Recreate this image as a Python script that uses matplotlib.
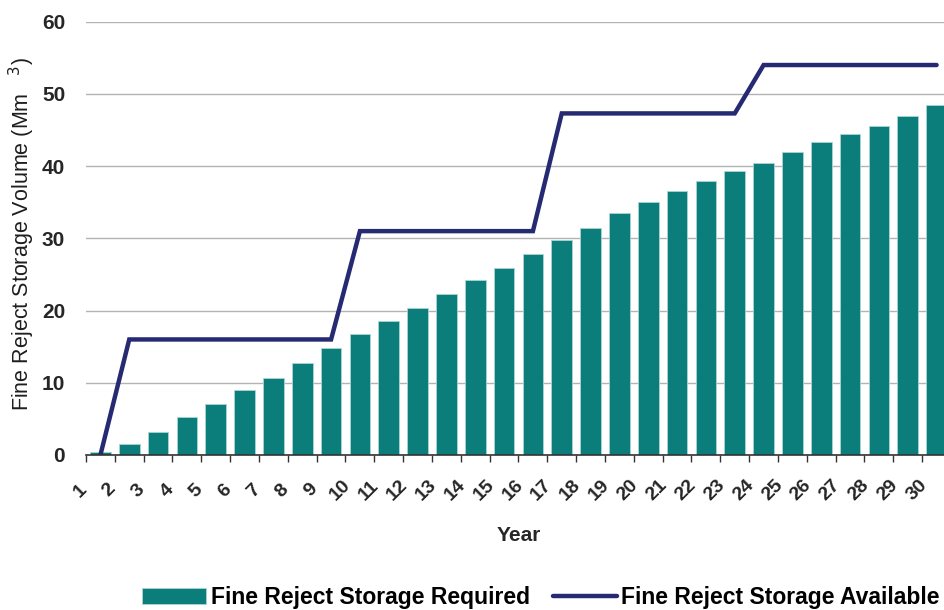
import matplotlib
matplotlib.use("Agg")
import matplotlib.pyplot as plt
import matplotlib.transforms as mtransforms
import numpy as np

plt.rcParams['font.family'] = ['Liberation Sans', 'DejaVu Sans']

# ------------------------------------------------------
# data
years = list(range(1, 31))
required = [0.4, 1.5, 3.2, 5.2, 7.1, 9.0, 10.7, 12.8, 14.8, 16.7,
            18.6, 20.3, 22.3, 24.2, 25.9, 27.8, 29.8, 31.5, 33.5, 35.0,
            36.6, 37.9, 39.3, 40.5, 41.9, 43.4, 44.4, 45.6, 47.0, 48.4]
available = [0, 16, 16, 16, 16, 16, 16, 16, 16, 31,
             31, 31, 31, 31, 31, 31, 47.3, 47.3, 47.3, 47.3,
             47.3, 47.3, 47.3, 54, 54, 54, 54, 54, 54, 54]
y_ticks = [0, 10, 20, 30, 40, 50, 60]
# ------------------------------------------------------

teal = '#0b7d7a'
navy = '#262a72'

fig = plt.figure(figsize=(9.44, 6.10), dpi=100)
ax = fig.add_axes([86 / 944, 155 / 610, 865 / 944, 433.3 / 610])

x = np.arange(len(years))
bars = ax.bar(x, required, width=0.72, color=teal, edgecolor='#a8d6d3',
              linewidth=0.6, zorder=2, label='Fine Reject Storage Required')
line, = ax.plot(x, available, color=navy, lw=3.2, solid_capstyle='round',
                solid_joinstyle='miter', zorder=3,
                label='Fine Reject Storage Available')

ax.set_xlim(-0.5, len(years) - 0.5)
ax.set_ylim(0, 60)
ax.set_yticks(y_ticks)
ax.set_yticklabels([str(v) for v in y_ticks], fontsize=15, fontweight='bold',
                   color='#262626')
ax.yaxis.grid(True, color='#b3b3b3', lw=1, zorder=0)
ax.tick_params(axis='y', length=0, pad=15)

# ticks on category boundaries, labels at category centres
ax.set_xticks(np.arange(len(years) + 1) - 0.5)
ax.set_xticklabels([])
ax.set_xticks(x, minor=True)
ax.set_xticklabels([str(y) for y in years], minor=True, rotation=45,
                   ha='center', va='center', fontsize=14, fontweight='bold',
                   color='#262626')
ax.tick_params(axis='x', which='major', length=5, width=1, color='#333333',
               direction='out')
ax.tick_params(axis='x', which='minor', length=0, pad=0)
off = mtransforms.ScaledTranslation(-0.20, -0.355, fig.dpi_scale_trans)
for lab in ax.get_xticklabels(minor=True):
    lab.set_transform(lab.get_transform() + off)

for s in ['top', 'right', 'left']:
    ax.spines[s].set_visible(False)
ax.spines['bottom'].set_color('#333333')
ax.spines['bottom'].set_linewidth(1.2)
ax.spines['bottom'].set_zorder(4)

ax.set_xlabel('Year', fontsize=15, fontweight='bold', color='#262626')
ax.xaxis.set_label_coords(0.5, -0.165)
ax.set_ylabel('Fine Reject Storage Volume (Mm   $^{3}$)', fontsize=15.5,
              color='#1e1e1e')
ax.yaxis.set_label_coords(-0.057, 0.51)

fig.legend([bars, line], [bars.get_label(), line.get_label()],
           loc='center', bbox_to_anchor=(0.573, 0.02), ncol=2, frameon=False,
           handlelength=2.8, handletextpad=0.2, columnspacing=1.0,
           prop={'weight': 'bold', 'size': 16.5})

fig.savefig('out.png', dpi=100)
